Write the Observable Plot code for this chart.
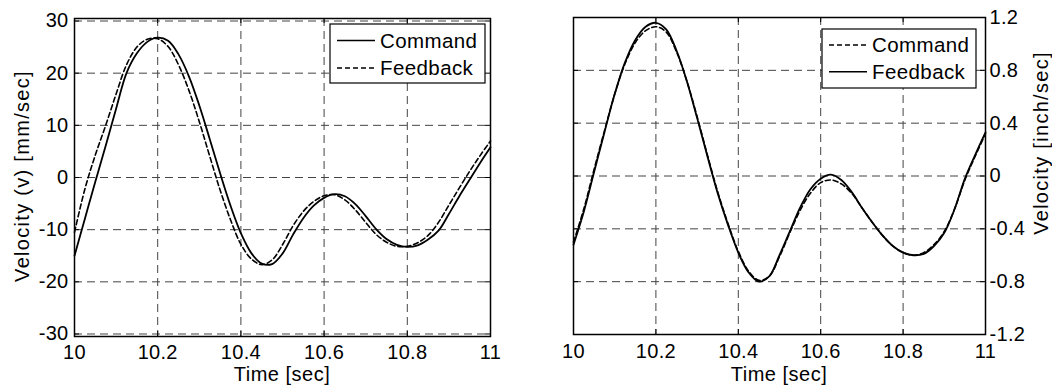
<!DOCTYPE html>
<html><head><meta charset="utf-8">
<script src="https://cdn.jsdelivr.net/npm/d3@7"></script>
<script src="https://cdn.jsdelivr.net/npm/@observablehq/plot@0.6"></script>
<style>
html,body{margin:0;padding:0;background:#fff;}
#wrap{position:relative;width:1052px;height:386px;overflow:hidden;background:#fff;}
#wrap svg{position:absolute;top:0;overflow:visible;}
#wrap svg text{font-family:"Liberation Sans",Arial,Helvetica,sans-serif;font-size:20px;letter-spacing:0.3px;fill:#000;}
#wrap svg text.ylab{letter-spacing:1.3px;}
#wrap svg text.xlab{letter-spacing:0.5px;}
#wrap svg text.leg{font-size:20.5px;letter-spacing:0.4px;}
</style></head><body><div id="wrap"></div>
<script>
// ---- data ----
const time = [10.000,10.025,10.050,10.075,10.100,10.125,10.150,10.175,10.200,10.225,10.250,10.275,10.300,10.325,10.350,10.375,10.400,10.425,10.450,10.475,10.500,10.525,10.550,10.575,10.600,10.625,10.650,10.675,10.700,10.725,10.750,10.775,10.800,10.825,10.850,10.875,10.900,10.925,10.950,10.975,11.000];
// left panel (mm/sec)
const commandMm = [-15.0,-7.9,-0.8,6.1,13.2,20.0,23.8,26.0,26.8,26.2,23.6,19.4,13.8,7.4,0.8,-5.4,-10.7,-14.5,-16.5,-16.6,-14.6,-11.0,-7.8,-5.4,-3.9,-3.2,-3.6,-5.1,-7.4,-9.9,-11.8,-12.9,-13.3,-13.0,-11.9,-10.2,-7.0,-3.6,-0.4,2.8,5.8];
const feedbackMm = [-10.5,-2.2,4.3,10.0,16.0,21.6,25.0,26.5,26.6,25.1,21.6,16.7,10.7,4.1,-2.4,-8.1,-12.8,-15.6,-16.7,-15.8,-12.9,-9.3,-6.5,-4.6,-3.5,-3.3,-4.3,-6.2,-8.6,-10.9,-12.4,-13.2,-13.2,-12.5,-11.1,-8.6,-5.3,-2.0,1.2,4.2,7.0];
// right panel (inch/sec)
const commandIn = [-0.50,-0.25,0.05,0.34,0.62,0.85,1.01,1.10,1.13,1.09,0.94,0.72,0.45,0.16,-0.12,-0.36,-0.57,-0.72,-0.79,-0.76,-0.61,-0.43,-0.26,-0.13,-0.05,-0.03,-0.06,-0.13,-0.24,-0.35,-0.45,-0.53,-0.58,-0.60,-0.58,-0.52,-0.42,-0.25,-0.03,0.15,0.32];
const feedbackIn = [-0.52,-0.27,0.03,0.33,0.62,0.86,1.03,1.13,1.16,1.11,0.95,0.72,0.44,0.15,-0.13,-0.37,-0.58,-0.73,-0.80,-0.76,-0.60,-0.42,-0.24,-0.10,-0.02,0.01,-0.03,-0.12,-0.24,-0.35,-0.45,-0.53,-0.58,-0.60,-0.59,-0.53,-0.43,-0.25,-0.02,0.16,0.33];
const xTicks = [10, 10.2, 10.4, 10.6, 10.8, 11];
const yTicksMm = [-30, -20, -10, 0, 10, 20, 30];
const yTicksIn = [-1.2, -0.8, -0.4, 0, 0.4, 0.8, 1.2];
const yDomainMm = [-30.48, 30.48];
const yDomainIn = [-1.2, 1.2];
const xLabel = "Time [sec]";
const yLabelMm = "Velocity (v) [mm/sec]";
const yLabelIn = "Velocity [inch/sec]";
const seriesNames = ["Command", "Feedback"];

const rowsOf = (vals) => time.map((t, i) => ({t, v: vals[i]}));

function panel(o) {
  const fw = o.W - o.mL - o.mR, fh = 386 - o.mT - o.mB;
  const grid = {stroke: "#444", strokeWidth: 1, strokeDasharray: "8,5"};
  const svg = Plot.plot({
    width: o.W, height: 386,
    marginLeft: o.mL, marginRight: o.mR, marginTop: o.mT, marginBottom: o.mB,
    style: {background: "transparent", overflow: "visible"},
    x: {domain: [10, 11], ticks: xTicks, tickFormat: d => String(d), tickSize: 0, tickPadding: o.xPad, label: null},
    y: {domain: o.yDomain, ticks: o.yTicks, tickFormat: d => String(d), tickSize: 0, tickPadding: o.yPad, label: null, axis: o.yAxis},
    marks: [
      Plot.ruleX(xTicks, grid),
      Plot.ruleY(o.yTicks, grid),
      Plot.ruleX(xTicks, {stroke: "black", strokeWidth: 1, insetBottom: fh - 5}),
      Plot.ruleX(xTicks, {stroke: "black", strokeWidth: 1, insetTop: fh - 5}),
      Plot.ruleY(o.yTicks, {stroke: "black", strokeWidth: 1, insetRight: fw - 5}),
      Plot.ruleY(o.yTicks, {stroke: "black", strokeWidth: 1, insetLeft: fw - 5}),
      Plot.line(rowsOf(o.dashed), {x: "t", y: "v", stroke: "black", strokeWidth: 1.6, strokeDasharray: "5,3", curve: "catmull-rom"}),
      Plot.line(rowsOf(o.solid), {x: "t", y: "v", stroke: "black", strokeWidth: 1.8, curve: "catmull-rom"}),
      Plot.frame({stroke: "black", strokeWidth: 1.5})
    ]
  });
  svg.style.left = o.left + "px";
  const s = d3.select(svg);
  // axis titles
  s.append("text").attr("class", "xlab").attr("x", o.mL + fw / 2).attr("y", o.xLabelY).attr("text-anchor", "middle").text(xLabel);
  s.append("text").attr("class", "ylab").attr("transform", `translate(${o.yLabelX},${o.yLabelYc}) rotate(-90)`).attr("text-anchor", "middle").text(o.yLabel);
  // legend
  const L = o.legend;
  const g = s.append("g");
  g.append("rect").attr("x", L.x).attr("y", L.y).attr("width", L.w).attr("height", L.h).attr("fill", "white").attr("stroke", "black").attr("stroke-width", 1.2);
  L.items.forEach((it, i) => {
    const ly = L.y + L.row0 + i * L.rowH;
    g.append("line").attr("x1", L.x + 7).attr("x2", L.x + 45).attr("y1", ly).attr("y2", ly)
      .attr("stroke", "black").attr("stroke-width", 1.5).attr("stroke-dasharray", it.dashed ? "5,3" : null);
    g.append("text").attr("class", "leg").attr("x", L.x + 50).attr("y", ly).attr("dy", "0.36em").attr("text-anchor", "start").text(it.name);
  });
  document.getElementById("wrap").appendChild(svg);
}

panel({
  left: 0, W: 526, mL: 74, mR: 36, mT: 18, mB: 50,
  yDomain: yDomainMm, yTicks: yTicksMm, yAxis: "left", xPad: 8, yPad: 6,
  solid: commandMm, dashed: feedbackMm,
  xLabelY: 381, yLabel: yLabelMm, yLabelX: 29, yLabelYc: 176,
  legend: {x: 330, y: 24, w: 155, h: 59, row0: 16.5, rowH: 27.5,
    items: [{name: seriesNames[0], dashed: false}, {name: seriesNames[1], dashed: true}]}
});
panel({
  left: 526, W: 526, mL: 47, mR: 67, mT: 17, mB: 52,
  yDomain: yDomainIn, yTicks: yTicksIn, yAxis: "right", xPad: 9, yPad: 4,
  solid: feedbackIn, dashed: commandIn,
  xLabelY: 381, yLabel: yLabelIn, yLabelX: 522, yLabelYc: 143,
  legend: {x: 296, y: 29, w: 154, h: 59, row0: 16, rowH: 26.7,
    items: [{name: seriesNames[0], dashed: true}, {name: seriesNames[1], dashed: false}]}
});
</script></body></html>
